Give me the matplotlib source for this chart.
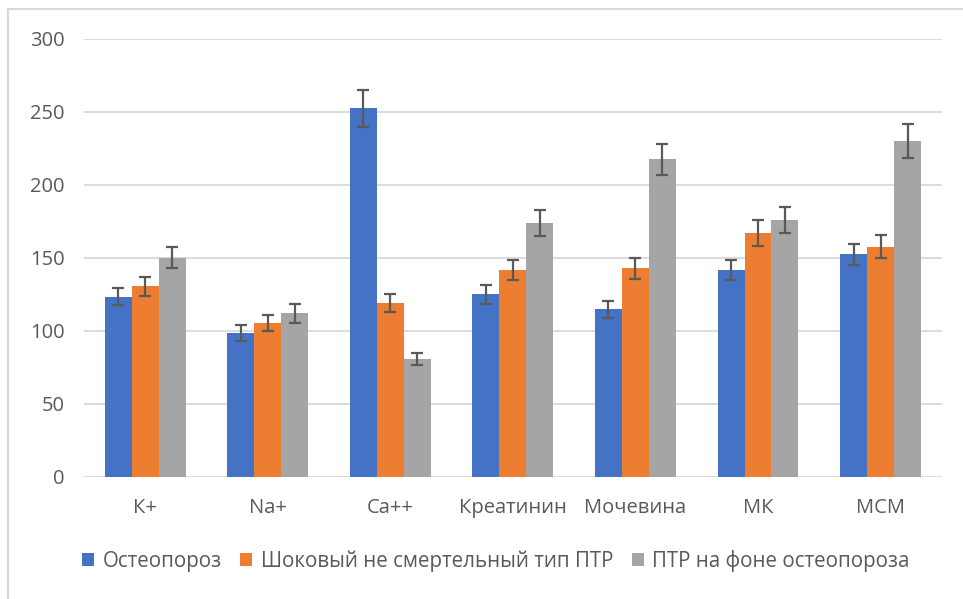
import matplotlib.pyplot as plt
from matplotlib.lines import Line2D
import numpy as np

categories = ['К+', 'Na+', 'Ca++', 'Креатинин', 'Мочевина', 'МК', 'МСМ']
series_names = ['Остеопороз', 'Шоковый не смертельный тип ПТР', 'ПТР на фоне остеопороза']

osteo = [123.5, 98.4, 252.5, 125.1, 114.9, 141.8, 152.5]
shock = [130.8, 105.3, 119.0, 141.8, 142.9, 167.3, 157.7]
ptr_osteo = [150.2, 112.1, 80.6, 174.2, 217.6, 176.0, 230.3]

osteo_err = [6.0, 5.6, 12.7, 6.4, 5.8, 7.0, 7.3]
shock_err = [6.5, 5.5, 6.0, 7.0, 7.3, 9.0, 7.9]
ptr_osteo_err = [7.0, 6.5, 4.0, 8.8, 10.6, 8.7, 11.5]

colors = ['#4472C4', '#ED7D31', '#A5A5A5']
plt.rcParams['font.family'] = ['Open Sans', 'DejaVu Sans']

fig = plt.figure(figsize=(9.63, 5.99), dpi=100)
ax = fig.add_axes([0.0872, 0.2037, 0.8908, 0.7312])

x = np.arange(len(categories))
w = 0.22
data = [osteo, shock, ptr_osteo]
errs = [osteo_err, shock_err, ptr_osteo_err]
for i in range(3):
    ax.bar(x + (i - 1) * w, data[i], w, color=colors[i], label=series_names[i], zorder=2)
    ax.errorbar(x + (i - 1) * w, data[i], yerr=errs[i], fmt='none', ecolor='#595959',
                elinewidth=1.6, capsize=4, capthick=1.6, zorder=3)

ax.set_xlim(-0.5, 6.5)
ax.set_ylim(0, 300)
ax.set_yticks(range(0, 301, 50))
ax.set_xticks(x)
ax.set_xticklabels(categories)
ax.grid(axis='y', color='#d9d9d9', linewidth=1.3, zorder=0)
ax.set_axisbelow(True)
for s in ax.spines.values():
    s.set_visible(False)
ax.tick_params(length=0, labelsize=14.5, colors='#595959')
ax.tick_params(axis='x', pad=15)
ax.tick_params(axis='y', pad=14)

leg = ax.legend(loc='center', bbox_to_anchor=(0.48, -0.192), ncol=3, frameon=False,
                fontsize=14.8, handlelength=0.6, handleheight=0.6, handletextpad=0.4,
                columnspacing=0.9, labelcolor='#595959')

# outer chart frame (top and left edges)
fig.add_artist(Line2D([8 / 963, 1], [1 - 9 / 599, 1 - 9 / 599], color='#d9d9d9', lw=1.5))
fig.add_artist(Line2D([8 / 963, 8 / 963], [0, 1 - 9 / 599], color='#d9d9d9', lw=1.5))

fig.savefig('out.png', dpi=100)
